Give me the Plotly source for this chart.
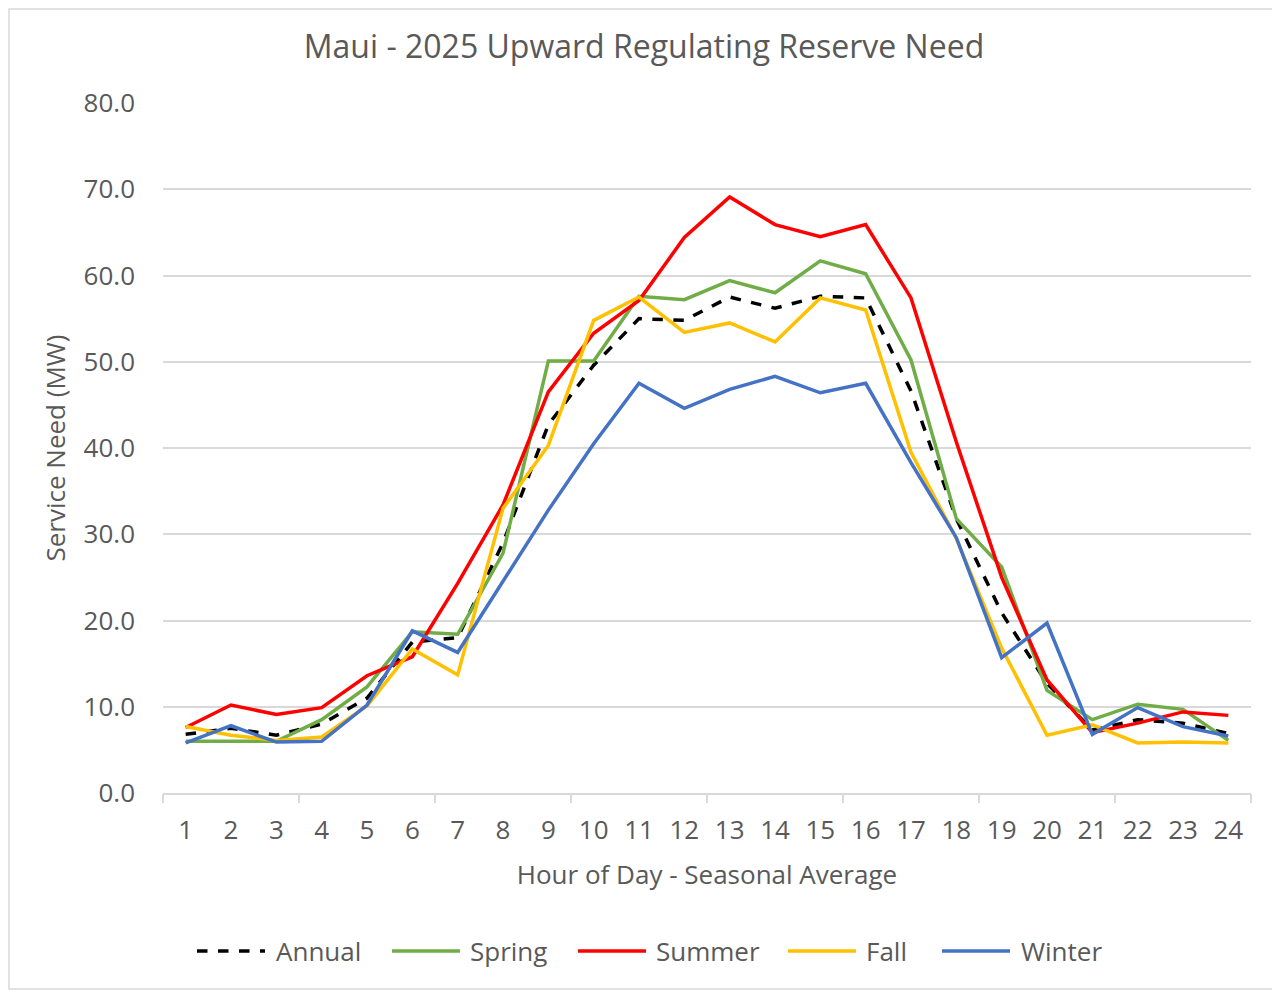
import plotly.graph_objects as go

hours = list(range(1, 25))
hour_labels = [str(h) for h in hours]

annual = [6.8, 7.5, 6.7, 8.0, 11.0, 17.5, 18.0, 29.0, 42.7, 49.6, 55.0, 54.8,
          57.5, 56.2, 57.6, 57.4, 46.6, 31.8, 20.9, 12.7, 7.3, 8.5, 8.1, 6.9]
spring = [6.0, 6.0, 6.0, 8.5, 12.3, 18.7, 18.4, 27.8, 50.1, 50.1, 57.6, 57.2,
          59.4, 58.0, 61.7, 60.2, 50.2, 31.8, 26.2, 11.9, 8.5, 10.3, 9.7, 6.1]
summer = [7.6, 10.2, 9.1, 9.9, 13.6, 15.8, 24.3, 33.4, 46.5, 53.3, 57.1, 64.4,
          69.1, 65.9, 64.5, 65.9, 57.4, 40.7, 25.0, 13.1, 7.0, 8.1, 9.4, 9.0]
fall = [7.7, 6.7, 6.1, 6.5, 10.1, 16.7, 13.7, 33.0, 40.3, 54.8, 57.5, 53.4,
        54.5, 52.3, 57.4, 56.0, 39.5, 29.5, 16.8, 6.7, 7.9, 5.8, 5.9, 5.8]
winter = [5.8, 7.8, 5.9, 6.0, 10.2, 18.8, 16.3, 24.5, 32.8, 40.5, 47.5, 44.6,
          46.8, 48.3, 46.4, 47.5, 38.3, 29.6, 15.7, 19.7, 6.8, 9.9, 7.7, 6.6]

y_ticks = [0, 10, 20, 30, 40, 50, 60, 70, 80]
y_tick_labels = [f"{v:.1f}" for v in y_ticks]

series = [
    ("Annual", annual, "#000000", "dash"),
    ("Spring", spring, "#70AD47", "solid"),
    ("Summer", summer, "#FF0000", "solid"),
    ("Fall", fall, "#FFC000", "solid"),
    ("Winter", winter, "#4472C4", "solid"),
]

OFF = 8  # page body margin
W, H = 1280, 993
# target plot area in screen pixels
SX0, SX1, SY0, SY1 = 163, 1251, 103, 793
L, T = SX0 - OFF, SY0 - OFF
R = W - (SX1 - OFF)
B = H - (SY1 - OFF)
PW, PH = SX1 - SX0, SY1 - SY0
FONT = "Open Sans"
GRAY = "#595959"
FS = 26
LW = 3.5


def px(x):
    return (x - SX0) / PW


def py(y):
    return (SY1 - y) / PH


fig = go.Figure()
for name, vals, color, dash in series:
    fig.add_trace(go.Scatter(x=hours, y=vals, mode="lines", name=name,
                             line=dict(color=color, width=LW, dash=dash),
                             showlegend=False))

# invisible trace for secondary x axis (tick marks between category groups)
fig.add_trace(go.Scatter(x=[0.5], y=[0], xaxis="x2", mode="markers",
                         marker=dict(opacity=0), showlegend=False, hoverinfo="skip"))

fig.update_layout(
    width=W, height=H,
    margin=dict(l=L, r=R, t=T, b=B),
    paper_bgcolor="white", plot_bgcolor="white",
    title=dict(text="Maui - 2025 Upward Regulating Reserve Need",
               font=dict(family=FONT, size=32, color=GRAY),
               x=px(644), xanchor="center", xref="paper",
               y=1 - (47 - OFF) / H, yanchor="middle"),
    xaxis=dict(range=[0.5, 24.5], tickmode="array", tickvals=hours, ticktext=hour_labels,
               showgrid=False, zeroline=False, showline=True, linecolor="#D9D9D9", linewidth=2,
               ticks="", tickfont=dict(family=FONT, size=FS, color=GRAY),
               ticklabelstandoff=13,
               title=dict(text="Hour of Day - Seasonal Average",
                          font=dict(family=FONT, size=FS, color=GRAY), standoff=20)),
    xaxis2=dict(range=[0.5, 24.5], overlaying="x", side="bottom", tickmode="array",
                tickvals=[0.5 + 3 * i for i in range(9)], ticks="outside", ticklen=9,
                tickwidth=2, tickcolor="#D9D9D9", showticklabels=False, showgrid=False,
                zeroline=False, showline=False),
    yaxis=dict(range=[0, 80], tickmode="array", tickvals=y_ticks, ticktext=y_tick_labels,
               showgrid=True, gridcolor="#D9D9D9", gridwidth=2, zeroline=False,
               showline=False, ticks="", tickfont=dict(family=FONT, size=FS, color=GRAY),
               ticklabelstandoff=27,
               title=dict(text="Service Need (MW)",
                          font=dict(family=FONT, size=FS, color=GRAY), standoff=10)),
)

shapes = [dict(type="rect", xref="paper", yref="paper",
               x0=px(9), x1=px(1277), y0=py(989), y1=py(9),
               line=dict(color="#D9D9D9", width=1.5), layer="below")]
annotations = []
legend_pos = [(197, 274), (392, 468), (578, 654), (788, 864), (942, 1019)]
ly = py(951)
for (name, vals, color, dash), (lx, tx) in zip(series, legend_pos):
    shapes.append(dict(type="line", xref="paper", yref="paper",
                       x0=px(lx), x1=px(lx + 68), y0=ly, y1=ly,
                       line=dict(color=color, width=LW, dash=dash)))
    annotations.append(dict(text=name, xref="paper", yref="paper", x=px(tx), y=ly,
                            xanchor="left", yanchor="middle", showarrow=False,
                            font=dict(family=FONT, size=FS, color=GRAY)))
fig.update_layout(shapes=shapes, annotations=annotations)

fig.write_html("out.html")
